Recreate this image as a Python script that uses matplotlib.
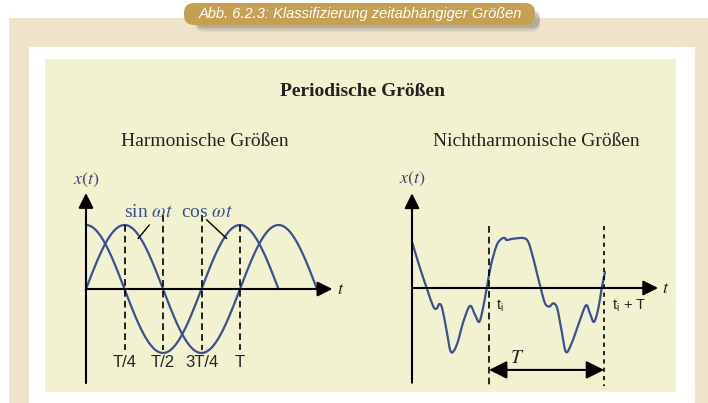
import numpy as np
import matplotlib
matplotlib.use('Agg')
import matplotlib.pyplot as plt
from matplotlib.patches import Rectangle, FancyBboxPatch, PathPatch
from matplotlib.path import Path

plt.rcParams['mathtext.fontset'] = 'stix'

# harmonic chart: t in units of the period T
harm_period = 1.0
harm_amp = 1.0
sin_end = 1.5
cos_end = 1.25
harm_ticks = [0.25, 0.5, 0.75, 1.0]
harm_tick_labels = ['T/4', 'T/2', '3T/4', 'T']
harm_dash_tops = [1.0, 1.16, 1.16, 1.0]

# non-harmonic chart: samples (t in T, x normalised)
nh_t = [0.0, 0.07, 0.128, 0.185, 0.215, 0.237, 0.263, 0.302, 0.339, 0.389,
        0.446, 0.504, 0.548, 0.583, 0.611, 0.65, 0.687, 0.737, 0.78, 0.809,
        0.823, 0.881, 0.968, 1.011, 1.055, 1.084, 1.119, 1.157, 1.194, 1.229,
        1.263, 1.302, 1.339, 1.389, 1.455, 1.513, 1.548, 1.583, 1.62, 1.65,
        1.678]
nh_x = [0.72, 0.31, 0.0, -0.29, -0.32, -0.25, -0.32, -0.68, -1.0, -0.89,
        -0.53, -0.28, -0.42, -0.53, -0.37, 0.0, 0.36, 0.67, 0.77, 0.78,
        0.75, 0.77, 0.78, 0.72, 0.46, 0.25, 0.0, -0.24, -0.29, -0.24,
        -0.32, -0.68, -1.0, -0.86, -0.53, -0.27, -0.40, -0.53, -0.32, 0.0,
        0.25]
t_i = 0.67
nh_period = 1.0

W, H = 708, 403
BLUE = '#3c4f91'
TXT = '#222222'


def px_axes(fig, left, right, top, bottom, ox, oy, sx, sy):
    # axes placed in pixel space, data origin at (ox, oy), sx/sy px per unit
    ax = fig.add_axes([left / W, (H - bottom) / H, (right - left) / W, (bottom - top) / H])
    ax.set_xlim((left - ox) / sx, (right - ox) / sx)
    ax.set_ylim((oy - bottom) / sy, (oy - top) / sy)
    ax.axis('off')
    ax.patch.set_alpha(0)
    return ax


def arrow(ax, start, end, style='-|>', scale=15):
    ax.annotate('', xy=end, xytext=start,
                arrowprops=dict(arrowstyle=style + ',head_length=0.6,head_width=0.3',
                                color='black', lw=1.5, mutation_scale=scale,
                                shrinkA=0, shrinkB=0))


def smooth_path(xs, ys):
    # bezier path through the read points (catmull-rom control points)
    p = np.column_stack([xs, ys])
    ext = np.vstack([p[0], p, p[-1]])
    verts = [p[0]]
    codes = [Path.MOVETO]
    for i in range(1, len(ext) - 2):
        c1 = ext[i] + (ext[i + 1] - ext[i - 1]) / 6
        c2 = ext[i + 1] - (ext[i + 2] - ext[i]) / 6
        verts += [c1, c2, ext[i + 1]]
        codes += [Path.CURVE4] * 3
    return Path(verts, codes)


fig = plt.figure(figsize=(W / 100, H / 100), dpi=100)

# background frame
bg = fig.add_axes([0, 0, 1, 1])
bg.set_xlim(0, W)
bg.set_ylim(H, 0)
bg.axis('off')
bg.add_patch(Rectangle((9, 18), W - 9, H - 18, color='#efe4cb', lw=0))
bg.add_patch(Rectangle((29, 47), 666, H - 47, color='white', lw=0))
bg.add_patch(Rectangle((45, 59), 631, 333, color='#f2f2d0', lw=0))

# title badge with shadow
for off, a in [(10, 0.10), (8, 0.15), (6, 0.2)]:
    bg.add_patch(FancyBboxPatch((195, 4 + off), 345, 18, boxstyle='round,pad=0,rounding_size=9',
                                color='#555555', alpha=a, lw=0))
bg.add_patch(FancyBboxPatch((184, 3), 351, 22, boxstyle='round,pad=0,rounding_size=10',
                            color='#c5a052', lw=0))
bg.text(360.5, 14, 'Abb. 6.2.3: Klassifizierung zeitabhängiger Größen', color='white',
        fontsize=10.5, style='italic', family=['Liberation Sans Narrow', 'Liberation Sans'],
        ha='center', va='center')

bg.text(363, 92, 'Periodische Größen', fontsize=14, fontweight='bold', family='Liberation Serif',
        color=TXT, ha='center', va='center')
bg.text(205, 142, 'Harmonische Größen', fontsize=14, family='Liberation Serif',
        color=TXT, ha='center', va='center')
bg.text(536, 141, 'Nichtharmonische Größen', fontsize=14, family='Liberation Serif',
        color=TXT, ha='center', va='center')

# harmonic chart
ax1 = px_axes(fig, 55, 365, 165, 395, 86, 289, 154, 64)
t_sin = np.linspace(0, sin_end, 300)
t_cos = np.linspace(0, cos_end, 250)
ax1.plot(t_sin, harm_amp * np.sin(2 * np.pi * t_sin / harm_period), color=BLUE, lw=1.6)
ax1.plot(t_cos, harm_amp * np.cos(2 * np.pi * t_cos / harm_period), color=BLUE, lw=1.6)
for tk, top, lab in zip(harm_ticks, harm_dash_tops, harm_tick_labels):
    ax1.plot([tk, tk], [top, -0.95], color='black', lw=1.2, ls=(0, (4, 2.5)))
    ax1.text(tk, -1.15, lab, fontsize=12, family='Liberation Sans', color=TXT,
             ha='center', va='center')
arrow(ax1, (0, -1.47), (0, 1.5))
arrow(ax1, (0, 0), (1.60, 0))
ax1.text(0, 1.70, '$x(t)$', fontsize=13, color='#3a4670', ha='center', va='center')
ax1.text(1.63, 0, '$t$', fontsize=13, color=TXT, ha='left', va='center')
ax1.text(0.403, 1.19, r'sin $\omega t$', fontsize=14, family='Liberation Serif',
         color=BLUE, ha='center', va='center')
ax1.text(0.786, 1.19, r'cos $\omega t$', fontsize=14, family='Liberation Serif',
         color=BLUE, ha='center', va='center')
ax1.plot([0.411, 0.339], [1.0, 0.79], color='black', lw=1)
ax1.plot([0.784, 0.913], [1.08, 0.79], color='black', lw=1)

# non-harmonic chart
ax2 = px_axes(fig, 385, 680, 165, 395, 412, 288, 115, 64)
ax2.add_patch(PathPatch(smooth_path(nh_t, nh_x), fill=False, edgecolor=BLUE, lw=1.6,
                        joinstyle='round', capstyle='round'))
for tk, dash in [(t_i, (4, 2.5)), (t_i + nh_period, (2.5, 2.5))]:
    ax2.plot([tk, tk], [0.97, -1.53], color='black', lw=1.2, ls=(0, dash))
arrow(ax2, (0, -1.48), (0, 1.48))
arrow(ax2, (0, 0), (2.14, 0))
ax2.text(0, 1.70, '$x(t)$', fontsize=13, color='#3a4670', ha='center', va='center')
ax2.text(2.17, 0, '$t$', fontsize=13, color=TXT, ha='left', va='center')
ax2.text(t_i + 0.06, -0.28, 't$_\\mathregular{i}$', fontsize=10.5, family='Liberation Sans',
         color=TXT, ha='left', va='center')
ax2.text(t_i + nh_period + 0.07, -0.28, 't$_\\mathregular{i}$ + T', fontsize=10.5,
         family='Liberation Sans', color=TXT, ha='left', va='center')
arrow(ax2, (t_i, -1.28), (t_i + nh_period, -1.28), style='<|-|>', scale=18)
ax2.text(t_i + 0.245, -1.08, '$T$', fontsize=14, color=TXT, ha='center', va='center')

fig.savefig('out.png', dpi=100)
